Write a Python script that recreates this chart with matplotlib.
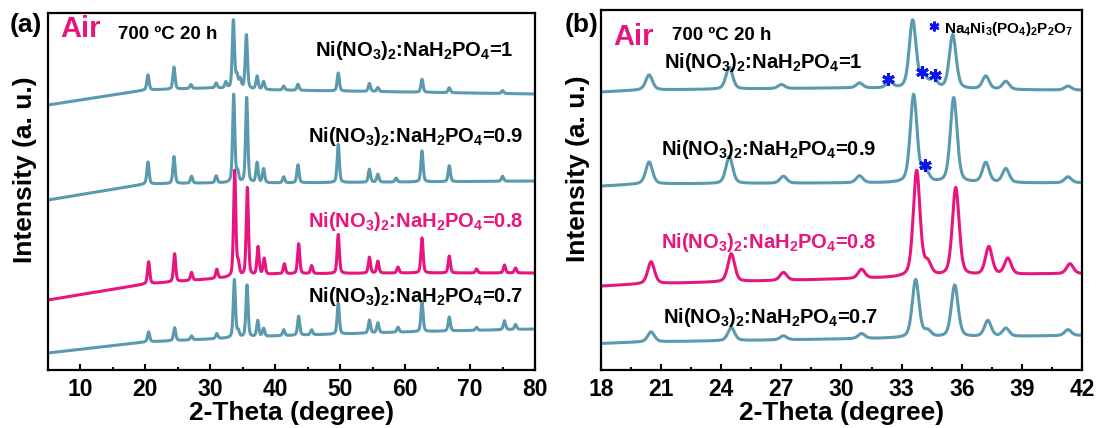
import numpy as np
import matplotlib.pyplot as plt
from matplotlib.ticker import MultipleLocator

plt.rcParams['font.family'] = ['Liberation Sans', 'DejaVu Sans']
plt.rcParams['font.weight'] = 'bold'
plt.rcParams['mathtext.fontset'] = 'custom'
plt.rcParams['mathtext.rm'] = 'Liberation Sans:bold'
plt.rcParams['mathtext.default'] = 'rm'

teal = '#5b9aae'
pink = '#e8157f'

# sample labels (Ni(NO3)2 : NaH2PO4 ratio)
ratios = ['1', '0.9', '0.8', '0.7']

# baseline (2theta, level)
base_x = [5, 20, 30, 40, 60, 80]
base_r1 = [265, 280, 282, 280, 278, 276]
base_r09 = [170, 186, 187, 187, 188, 189]
base_r08 = [70, 86, 91, 96, 97, 97]
base_r07 = [17, 28, 31, 34, 38, 41]

# peak positions and heights above baseline
pos_r1 = [20.4, 24.4, 27.0, 30.9, 32.4, 33.55, 34.1, 34.6, 35.55, 37.2, 38.2,
          41.3, 43.5, 49.7, 54.5, 55.8, 62.6, 66.8, 75.0]
hgt_r1 = [15, 22, 4, 5, 6, 68, 12, 9, 54, 13, 8,
          4, 6, 18, 8, 4, 13, 5, 3]

pos_r09 = [20.4, 24.4, 27.1, 30.9, 33.6, 34.2, 35.6, 37.2, 38.2, 41.3,
           43.5, 49.7, 54.5, 55.8, 58.6, 62.6, 66.8, 75.0]
hgt_r09 = [22, 27, 7, 7, 88, 10, 85, 20, 14, 6,
           18, 38, 13, 8, 4, 31, 16, 5]

pos_r08 = [20.5, 24.5, 27.1, 31.0, 33.75, 34.3, 35.7, 37.35, 38.3, 41.4,
           43.6, 45.6, 49.7, 54.5, 55.8, 58.9, 62.6, 66.8, 71.0, 75.3, 77.0]
hgt_r08 = [22, 28, 8, 9, 106, 12, 88, 28, 16, 10,
           30, 8, 39, 16, 12, 6, 35, 17, 4, 8, 5]

pos_r07 = [20.5, 24.5, 27.1, 31.0, 33.7, 34.3, 35.65, 37.3, 38.2, 41.3,
           43.6, 45.6, 49.7, 54.5, 55.8, 58.9, 62.6, 66.8, 71.0, 75.3, 77.0]
hgt_r07 = [10, 13, 4, 5, 58, 6, 52, 16, 8, 6,
           19, 5, 31, 13, 10, 5, 30, 14, 3, 9, 5]

fwhm = 0.4

# Na4Ni3(PO4)2P2O7 marks in panel (b)
star_x = [32.3, 34.0, 34.65, 34.15]
star_y = [291, 298, 295, 205]


def pattern(x, bx, by, pos, hgt):
    y = np.interp(x, bx, by)
    for p, h in zip(pos, hgt):
        g = np.exp(-4 * np.log(2) * ((x - p) / fwhm) ** 2)
        lo = 1 / (1 + 4 * ((x - p) / fwhm) ** 2)
        y = y + h * (0.6 * g + 0.4 * lo)
    return y


x = np.arange(5, 80.01, 0.02)
curves = [
    (pattern(x, base_x, base_r1, pos_r1, hgt_r1), teal),
    (pattern(x, base_x, base_r09, pos_r09, hgt_r09), teal),
    (pattern(x, base_x, base_r08, pos_r08, hgt_r08), pink),
    (pattern(x, base_x, base_r07, pos_r07, hgt_r07), teal),
]

W, H = 1102, 428
fig = plt.figure(figsize=(W / 100, H / 100), dpi=100)
ax1 = fig.add_axes([48 / W, 1 - 370 / H, (535 - 48) / W, 357 / H])
ax2 = fig.add_axes([601 / W, 1 - 370 / H, (1082 - 601) / W, 360 / H])

for ax in (ax1, ax2):
    for y, c in curves:
        ax.plot(x, y, color=c, lw=2.2)
    ax.set_yticks([])
    ax.tick_params(axis='x', direction='in', length=4, width=1.5,
                   labelsize=16.5, pad=6)
    ax.tick_params(axis='x', which='minor', direction='in', length=2.5, width=1.5)
    for s in ax.spines.values():
        s.set_linewidth(1.6)
    ax.set_xlabel('2-Theta (degree)', fontsize=19, fontweight='bold', labelpad=0)
    ax.set_ylabel('Intensity (a. u.)', fontsize=19, fontweight='bold')
    ax.yaxis.set_label_coords(-0.022, 0.56)

ax1.set_xlim(5, 80)
ax1.set_ylim(0, 357)
ax1.xaxis.set_major_locator(MultipleLocator(10))
ax1.xaxis.set_minor_locator(MultipleLocator(5))

ax2.set_xlim(18, 42)
ax2.set_ylim(0, 360)
ax2.xaxis.set_major_locator(MultipleLocator(3))
ax2.xaxis.set_minor_locator(MultipleLocator(1.5))

ax2.plot(star_x, star_y, ls='none', marker=(6, 2, 0), ms=9, mew=2.2, color='#0a14f0')

lbl = [r'Ni(NO$_3$)$_2$:NaH$_2$PO$_4$=' + r for r in ratios]

# panel (a) text
fig.text(10 / W, 1 - 25 / H, '(a)', fontsize=19, fontweight='bold', va='center')
ax1.text(0.025, 0.955, 'Air', transform=ax1.transAxes, fontsize=21,
         fontweight='bold', color=pink, va='center')
ax1.text(0.144, 0.94, '700 ºC 20 h', transform=ax1.transAxes, fontsize=13.5,
         fontweight='bold', va='center')
lbl_a_pos = [(0.955, 0.895), (0.975, 0.655), (0.975, 0.415), (0.975, 0.205)]
for t, (px, py), c in zip(lbl, lbl_a_pos, ['k', 'k', pink, 'k']):
    ax1.text(px, py, t, transform=ax1.transAxes, fontsize=14.5, fontweight='bold',
             color=c, ha='right', va='center')

# panel (b) text
fig.text(565 / W, 1 - 25 / H, '(b)', fontsize=19, fontweight='bold', va='center')
ax2.text(0.025, 0.925, 'Air', transform=ax2.transAxes, fontsize=21,
         fontweight='bold', color=pink, va='center')
ax2.text(0.148, 0.93, '700 ºC 20 h', transform=ax2.transAxes, fontsize=13.5,
         fontweight='bold', va='center')
ax2.plot([(934 - 601) / 481], [0.955], transform=ax2.transAxes, ls='none',
         marker=(6, 2, 0), ms=7, mew=1.8, color='#0a14f0')
ax2.text((944 - 601) / 481, 0.948, r'Na$_4$Ni$_3$(PO$_4$)$_2$P$_2$O$_7$',
         transform=ax2.transAxes, fontsize=11, fontweight='bold', va='center')
lbl_b_pos = [(0.13, 0.855), (0.125, 0.612), (0.125, 0.353), (0.128, 0.145)]
for t, (px, py), c in zip(lbl, lbl_b_pos, ['k', 'k', pink, 'k']):
    ax2.text(px, py, t, transform=ax2.transAxes, fontsize=14.5, fontweight='bold',
             color=c, ha='left', va='center')

fig.savefig('out.png', dpi=100)
